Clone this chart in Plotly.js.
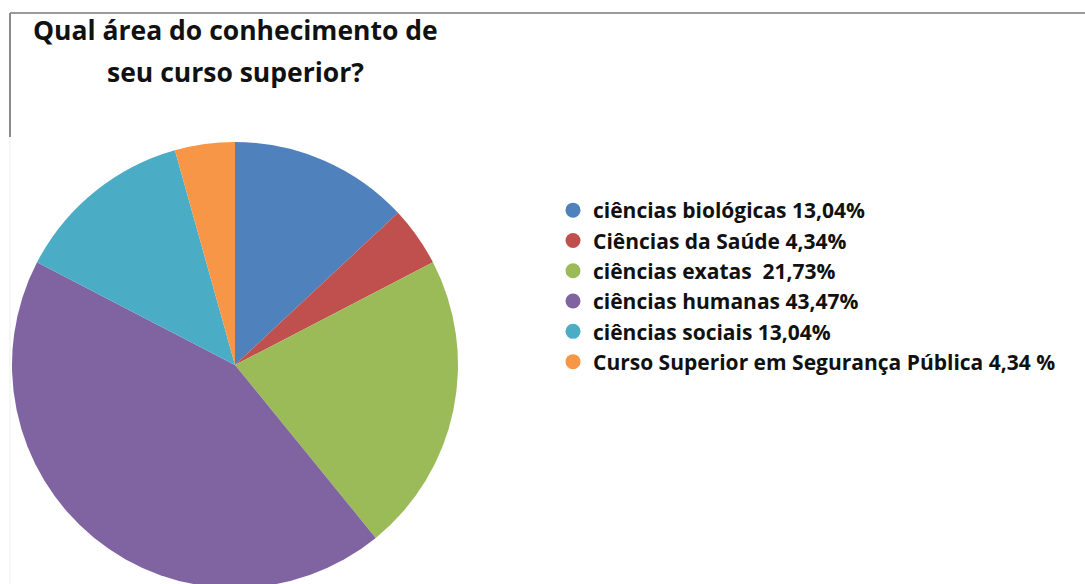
<!DOCTYPE html>
<html>
<head>
<meta charset="utf-8">
<script src="https://cdn.plot.ly/plotly-3.0.1.min.js"></script>
<style>html,body{margin:0;padding:0;background:#fff;overflow:hidden;}#chart{width:1085px;height:590px;}</style>
</head>
<body>
<div id="chart"></div>
<script>
const categories = ["ciências biológicas", "Ciências da Saúde", "ciências exatas", "ciências humanas", "ciências sociais", "Curso Superior em Segurança Pública"];
const values = [13.04, 4.34, 21.73, 43.47, 13.04, 4.34];
const legendLabels = ["ciências biológicas 13,04%", "Ciências da Saúde 4,34%", "ciências exatas  21,73%", "ciências humanas 43,47%", "ciências sociais 13,04%", "Curso Superior em Segurança Pública 4,34 %"];
const colors = ["#4F81BD", "#C0504D", "#9BBB59", "#8064A2", "#4BACC6", "#F79646"];
const titleLines = ["Qual área do conhecimento de", "seu curso superior?"];

// figure slightly taller than the 584px window so the pie bottom is cropped like the reference
const W = 1085, H = 590;
const FONT = "Open Sans, Liberation Sans, sans-serif";

const traces = [{
  type: "pie",
  labels: categories,
  values: values,
  sort: false,
  direction: "clockwise",
  rotation: 0,
  marker: {colors: colors, line: {width: 0}},
  textinfo: "none",
  hoverinfo: "label+percent",
  showlegend: false,
  domain: {x: [12 / W, 458 / W], y: [1 - 588 / H, 1 - 142 / H]}
}];
legendLabels.forEach((lab, i) => {
  traces.push({
    type: "scatter", mode: "markers", x: [null], y: [null],
    name: lab,
    marker: {color: colors[i], size: 15, symbol: "circle"},
    showlegend: true, hoverinfo: "skip"
  });
});

const layout = {
  width: W, height: H,
  margin: {l: 0, r: 0, t: 0, b: 0},
  paper_bgcolor: "#fff", plot_bgcolor: "#fff",
  xaxis: {visible: false}, yaxis: {visible: false},
  showlegend: true,
  legend: {
    x: 553 / W, y: 1 - 190 / H, xanchor: "left", yanchor: "top",
    font: {family: FONT, size: 21, color: "#111", weight: 700},
    traceorder: "normal",
    bgcolor: "rgba(0,0,0,0)", borderwidth: 0, itemclick: false
  },
  annotations: titleLines.map((t, i) => ({
    text: t,
    xref: "paper", yref: "paper", x: 235 / W, y: 1 - (30 + 42 * i) / H,
    xanchor: "center", yanchor: "middle", showarrow: false, align: "center",
    font: {family: FONT, size: 26.5, color: "#111", weight: 700}
  })),
  shapes: [
    {type: "line", xref: "paper", yref: "paper", x0: 10 / W, x1: 1, y0: 1 - 13 / H, y1: 1 - 13 / H, line: {color: "#9a9a9a", width: 2}},
    {type: "line", xref: "paper", yref: "paper", x0: 10 / W, x1: 10 / W, y0: 1 - 13 / H, y1: 1 - 137 / H, line: {color: "#8a8a8a", width: 2}},
    {type: "line", xref: "paper", yref: "paper", x0: 10 / W, x1: 10 / W, y0: 1 - 137 / H, y1: 0, line: {color: "#eeeeee", width: 1}}
  ]
};

Plotly.newPlot("chart", traces, layout, {displayModeBar: false, staticPlot: true});
</script>
</body>
</html>
